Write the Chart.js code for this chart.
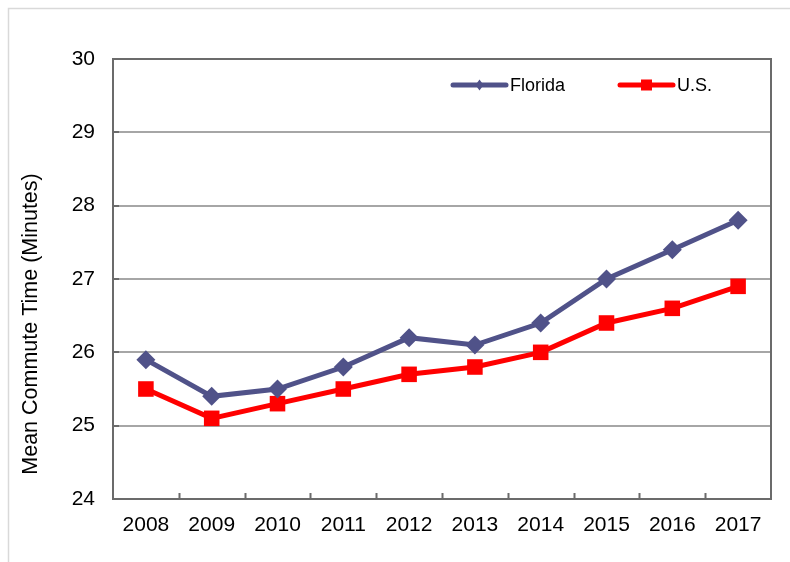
<!DOCTYPE html>
<html><head><meta charset="utf-8">
<script src="https://cdn.jsdelivr.net/npm/chart.js@4/dist/chart.umd.min.js"></script>
<style>html,body{margin:0;padding:0;background:#fff}#wrap{width:790px;height:562px;position:relative}canvas{display:block}</style>
</head><body><div id="wrap"><canvas id="c" width="790" height="562"></canvas></div>
<script>
const years = ['2008','2009','2010','2011','2012','2013','2014','2015','2016','2017'];
const florida = [25.9, 25.4, 25.5, 25.8, 26.2, 26.1, 26.4, 27.0, 27.4, 27.8];
const us = [25.5, 25.1, 25.3, 25.5, 25.7, 25.8, 26.0, 26.4, 26.6, 26.9];
const seriesNames = ['Florida', 'U.S.'];
const yAxisTitle = 'Mean Commute Time (Minutes)';
const yMin = 24, yMax = 30, yStep = 1;

const FONT = '"Liberation Sans", Arial, sans-serif';
const floridaColor = '#505289';
const usColor = '#ff0000';
const boxColor = '#6b6b6b';

const decor = {
  id: 'decor',
  beforeDraw(chart) {
    const ctx = chart.ctx;
    ctx.save();
    ctx.fillStyle = '#fff';
    ctx.fillRect(0, 0, chart.width, chart.height);
    ctx.strokeStyle = '#d9d9d9';
    ctx.lineWidth = 1.5;
    ctx.beginPath();
    ctx.moveTo(8.5, chart.height);
    ctx.lineTo(8.5, 8.5);
    ctx.lineTo(chart.width, 8.5);
    ctx.stroke();
    ctx.restore();
  },
  beforeDatasetsDraw(chart) {
    const ctx = chart.ctx, a = chart.chartArea;
    const xs = chart.scales.x, ys = chart.scales.y;
    ctx.save();
    ctx.strokeStyle = boxColor;
    ctx.lineWidth = 2;
    ctx.strokeRect(a.left, a.top, a.right - a.left, a.bottom - a.top);
    ctx.beginPath();
    for (let i = 1; i < years.length; i++) {
      const x = Math.round((xs.getPixelForValue(i - 1) + xs.getPixelForValue(i)) / 2) + 0.5;
      ctx.moveTo(x, a.bottom);
      ctx.lineTo(x, a.bottom - 6);
    }
    for (let v = yMin + yStep; v < yMax; v += yStep) {
      const y = Math.round(ys.getPixelForValue(v));
      ctx.moveTo(a.left, y);
      ctx.lineTo(a.left + 6, y);
    }
    ctx.stroke();
    ctx.restore();
  },
  afterDraw(chart) {
    const ctx = chart.ctx, a = chart.chartArea;
    ctx.save();
    // y axis title
    ctx.translate(31, 324);
    ctx.rotate(-Math.PI / 2);
    ctx.fillStyle = '#000';
    ctx.font = '21.5px ' + FONT;
    ctx.textAlign = 'center';
    ctx.textBaseline = 'middle';
    ctx.fillText(yAxisTitle, 0, 0);
    ctx.restore();
    // legend
    const items = [
      { x: 451, ds: chart.data.datasets[0] },
      { x: 618, ds: chart.data.datasets[1] }
    ];
    const ly = 85;
    items.forEach(it => {
      ctx.save();
      ctx.strokeStyle = it.ds.borderColor;
      ctx.lineWidth = 5;
      ctx.lineCap = 'round';
      ctx.beginPath();
      ctx.moveTo(it.x + 2, ly);
      ctx.lineTo(it.x + 55, ly);
      ctx.stroke();
      ctx.fillStyle = it.ds.borderColor;
      const cx = it.x + 28.5;
      if (it.ds.pointStyle === 'rect') {
        ctx.fillRect(cx - 5.5, ly - 5.5, 11, 11);
      } else {
        ctx.beginPath();
        ctx.moveTo(cx, ly - 5.5); ctx.lineTo(cx + 4, ly); ctx.lineTo(cx, ly + 5.5); ctx.lineTo(cx - 4, ly);
        ctx.closePath(); ctx.fill();
      }
      ctx.fillStyle = '#000';
      ctx.font = '18px ' + FONT;
      ctx.textAlign = 'left';
      ctx.textBaseline = 'middle';
      ctx.fillText(it.ds.label, it.x + 59, ly + 1);
      ctx.restore();
    });
  }
};

new Chart(document.getElementById('c'), {
  type: 'line',
  data: {
    labels: years,
    datasets: [
      {
        label: seriesNames[0], data: florida,
        borderColor: floridaColor, backgroundColor: floridaColor,
        borderWidth: 5, pointStyle: 'rectRot', pointRadius: 9.5, pointHoverRadius: 9.5,
        pointBorderWidth: 0, tension: 0, clip: false
      },
      {
        label: seriesNames[1], data: us,
        borderColor: usColor, backgroundColor: usColor,
        borderWidth: 5, pointStyle: 'rect', pointRadius: 11, pointHoverRadius: 11,
        pointBorderWidth: 0, tension: 0, clip: false
      }
    ]
  },
  options: {
    responsive: false,
    animation: false,
    devicePixelRatio: 1,
    layout: { padding: { top: 59, right: 19, bottom: 0, left: 0 } },
    plugins: { legend: { display: false }, tooltip: { enabled: false } },
    scales: {
      x: {
        offset: true,
        grid: { display: false, drawTicks: false },
        border: { display: false },
        ticks: { color: '#000', font: { size: 21, family: FONT }, padding: 14, maxRotation: 0 },
        afterFit: s => { s.height = 63; }
      },
      y: {
        min: yMin, max: yMax,
        grid: { color: '#a6a6a6', lineWidth: 2, drawTicks: false },
        border: { display: false },
        ticks: { stepSize: yStep, color: '#000', font: { size: 21, family: FONT }, padding: 18 },
        afterFit: s => { s.width = 113; }
      }
    }
  },
  plugins: [decor]
});
</script>
</body></html>
